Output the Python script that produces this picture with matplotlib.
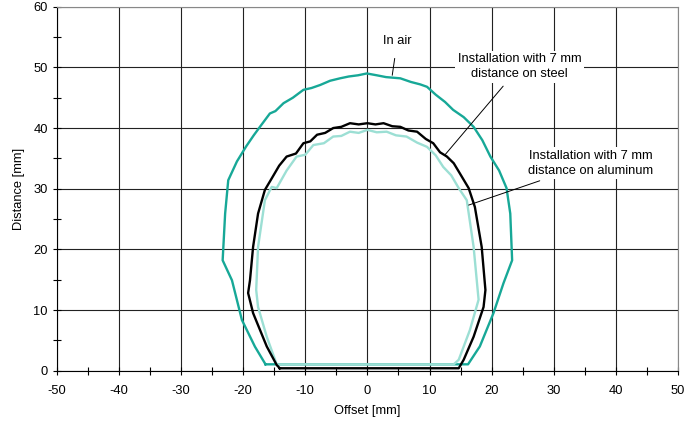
import matplotlib.pyplot as plt
from matplotlib.ticker import MultipleLocator

plt.rcParams['font.family'] = ['Liberation Sans', 'DejaVu Sans']
plt.rcParams['axes.unicode_minus'] = False

# In air
air_x = [-16.4, -18.1, -20.2, -21.8, -23.3, -22.9, -22.4, -21.0, -19.5, -18.3, -17.3,
         -15.7, -14.8, -13.5, -12.0, -10.3, -9.0, -7.6, -6.0, -4.4, -3.0, -1.5, -0.1,
         1.5, 3.0, 5.3, 7.0, 8.5, 9.6, 11.0, 12.5, 13.8, 15.5, 17.1, 18.5, 19.8, 21.2,
         22.4, 23.0, 23.3, 21.9, 20.3, 18.1, 16.2, -16.4]
air_y = [1.05, 3.96, 8.36, 14.9, 18.2, 25.9, 31.4, 34.5, 37.0, 38.8, 40.2,
         42.4, 42.8, 44.1, 45.0, 46.3, 46.6, 47.1, 47.8, 48.2, 48.5, 48.7, 49.0,
         48.7, 48.4, 48.2, 47.6, 47.2, 46.8, 45.5, 44.3, 43.0, 41.8, 40.2, 38.0, 35.3, 33.0,
         30.1, 25.9, 18.2, 14.4, 9.5, 4.0, 1.05, 1.05]

# Installation with 7 mm distance on steel
steel_x = [-14.1, -14.6, -16.2, -18.4, -19.2, -18.9, -18.4, -17.6, -16.5, -15.4, -14.2,
           -13.0, -11.5, -10.3, -9.2, -8.1, -6.8, -5.5, -4.2, -2.8, -1.4, 0.0, 1.3,
           2.6, 4.0, 5.3, 6.6, 8.0, 9.4, 10.6, 11.7, 12.8, 13.9, 14.9, 16.3, 17.3, 18.4,
           19.0, 18.7, 17.1, 15.5, 14.7, 14.1, -14.1]
steel_y = [0.4, 0.94, 4.0, 9.5, 12.8, 14.9, 20.4, 25.9, 29.8, 31.7, 33.8,
           35.3, 35.8, 37.5, 37.8, 38.9, 39.2, 40.0, 40.2, 40.8, 40.6, 40.8, 40.6,
           40.8, 40.3, 40.2, 39.6, 39.4, 38.2, 37.5, 36.0, 35.3, 34.2, 32.5, 30.1, 27.0, 20.4,
           13.3, 10.5, 5.6, 1.8, 0.4, 0.4, 0.4]

# Installation with 7 mm distance on aluminum
alu_x = [-14.6, -16.2, -17.6, -17.9, -17.6, -16.5, -15.4, -14.6, -13.0, -11.4, -10.0,
         -8.7, -7.0, -5.5, -4.2, -2.8, -1.4, 0.0, 1.5, 3.1, 4.6, 6.3, 8.0, 9.6,
         11.0, 12.2, 13.5, 14.7, 16.0, 17.1, 17.9, 16.5, 14.7, 13.9, -14.6]
alu_y = [1.05, 5.6, 10.5, 13.3, 20.4, 28.1, 30.3, 30.1, 33.0, 35.3, 35.6,
         37.2, 37.5, 38.6, 38.7, 39.4, 39.2, 39.7, 39.3, 39.4, 38.8, 38.6, 37.6, 36.9,
         35.5, 33.6, 32.2, 30.1, 28.1, 20.4, 11.7, 6.7, 1.8, 1.05, 1.05]

teal = '#17a897'
light = '#9cdfd4'
fs = 9.3

fig = plt.figure(figsize=(6.9, 4.21), dpi=100)
ax = fig.add_axes([0.0823, 0.1195, 0.9003, 0.8645])

ax.plot(air_x, air_y, color=teal, lw=1.7, zorder=3)
ax.plot(alu_x, alu_y, color=light, lw=1.7, zorder=3)
ax.plot(steel_x, steel_y, color='black', lw=1.7, zorder=4)

ax.set_xlim(-50, 50)
ax.set_ylim(0, 60)
ax.xaxis.set_major_locator(MultipleLocator(10))
ax.xaxis.set_minor_locator(MultipleLocator(5))
ax.yaxis.set_major_locator(MultipleLocator(10))
ax.yaxis.set_minor_locator(MultipleLocator(5))
ax.grid(which='major', color='#222222', lw=0.8)
ax.tick_params(which='both', direction='inout', length=6, width=0.8, labelsize=fs)
ax.tick_params(axis='x', pad=7)
for s in ['top', 'right']:
    ax.spines[s].set_color('#888888')
for s in ['left', 'bottom']:
    ax.spines[s].set_color('black')
ax.set_axisbelow(True)

ax.set_xlabel('Offset [mm]', fontsize=fs, labelpad=6)
ax.set_ylabel('Distance [mm]', fontsize=fs, labelpad=6)

box = dict(facecolor='white', edgecolor='none', pad=2)
ax.annotate('In air', xy=(4.0, 48.7), xytext=(4.8, 54.3), fontsize=fs,
            ha='center', va='center', bbox=box,
            arrowprops=dict(arrowstyle='-', color='black', lw=0.7, shrinkA=6, shrinkB=0), zorder=5)
ax.annotate('Installation with 7 mm\ndistance on steel', xy=(12.5, 35.6), xytext=(24.5, 50.1),
            fontsize=fs, ha='center', va='center', bbox=box, linespacing=1.3,
            arrowprops=dict(arrowstyle='-', color='black', lw=0.7, shrinkA=3, shrinkB=0), zorder=5)
ax.annotate('Installation with 7 mm\ndistance on aluminum', xy=(16.3, 27.3), xytext=(36.0, 34.2),
            fontsize=fs, ha='center', va='center', bbox=box, linespacing=1.3,
            arrowprops=dict(arrowstyle='-', color='black', lw=0.7, shrinkA=3, shrinkB=0), zorder=5)

fig.savefig('out.png', dpi=100)
